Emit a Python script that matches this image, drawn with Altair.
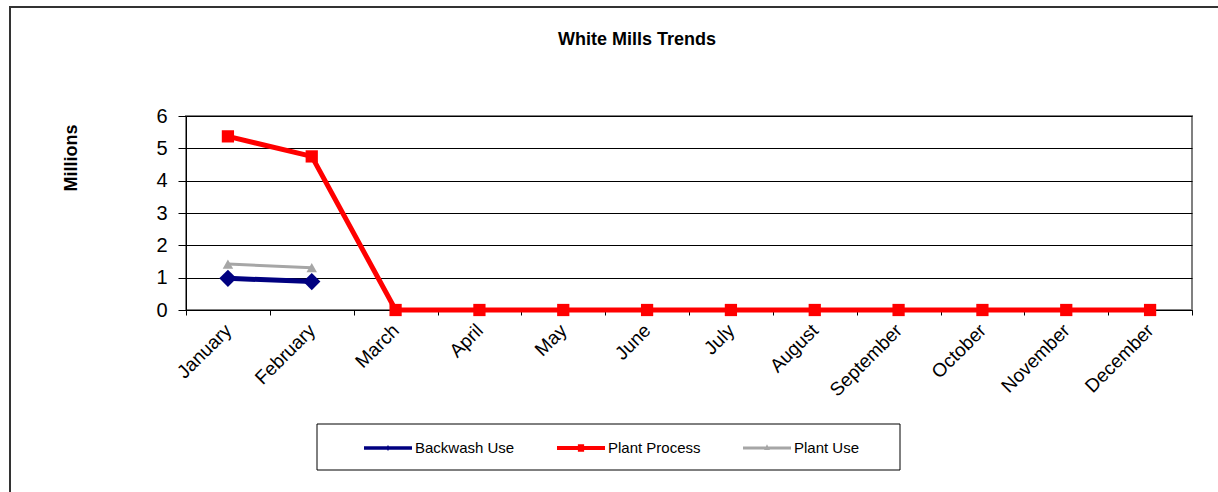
import altair as alt
import pandas as pd

months = ["January", "February", "March", "April", "May", "June", "July",
          "August", "September", "October", "November", "December"]
series_names = ["Backwash Use", "Plant Process", "Plant Use"]
backwash_use = [0.98, 0.88]
plant_process = [5.37, 4.75, 0, 0, 0, 0, 0, 0, 0, 0, 0, 0]
plant_use = [1.42, 1.31]
y_ticks = [0, 1, 2, 3, 4, 5, 6]

colors = ["#000080", "#FF0000", "#A6A6A6"]
markers = ["diamond", "square", "triangle-up"]
marker_sizes = [300, 150, 110]
line_widths = [5, 5, 3]

rows = []
for i, (name, vals) in enumerate(zip(series_names, [backwash_use, plant_process, plant_use])):
    for m, v in zip(months, vals):
        rows.append({"month": m, "series": name, "value": v, "col": colors[i],
                     "mk": markers[i], "ms": marker_sizes[i], "lw": line_widths[i],
                     "order": i})
df = pd.DataFrame(rows)

x_axis = alt.Axis(title=None, labelAngle=-45, labelAlign="right", labelBaseline="middle",
                  tickBand="extent", tickSize=5, labelPadding=12, labelFontSize=19,
                  labelColor="#000", domainColor="#000", tickColor="#000",
                  labelFont="Liberation Sans", grid=False, labelOverlap=False)
y_axis = alt.Axis(title=None, values=y_ticks, grid=True, gridColor="#000",
                  gridWidth=1, tickSize=8, labelPadding=11, labelFontSize=20,
                  labelColor="#000", domainColor="#000", tickColor="#000",
                  labelFont="Liberation Sans", domainWidth=1, labelOverlap=False)
x_scale = alt.Scale(type="band", domain=months, paddingInner=0, paddingOuter=0)
y_scale = alt.Scale(domain=[0, 6], nice=False)


def xe():
    return alt.X("month:O", sort=months, scale=x_scale, axis=x_axis)


def ye():
    return alt.Y("value:Q", scale=y_scale, axis=y_axis)


base = alt.Chart(df)

lines = base.mark_line().encode(
    x=xe(), y=ye(),
    color=alt.Color("col:N", scale=None),
    strokeWidth=alt.StrokeWidth("lw:Q", scale=None),
    detail="series:N",
)

points = base.mark_point(filled=True, opacity=1).encode(
    x=xe(), y=ye(),
    color=alt.Color("col:N", scale=None),
    shape=alt.Shape("mk:N", scale=None),
    size=alt.Size("ms:Q", scale=None),
)

legend_paths = [
    "M-1,-0.07H1V0.07H-1Z M0,-0.13L0.08,0L0,0.13L-0.08,0Z",
    "M-1,-0.08H1V0.08H-1Z M-0.13,-0.16H0.13V0.16H-0.13Z",
    "M-1,-0.06H1V0.06H-1Z M0,-0.16L0.12,0.08L-0.12,0.08Z",
]

legend_layer = base.mark_point(filled=True, opacity=0).encode(
    x=xe(), y=ye(),
    color=alt.Color("series:N", scale=alt.Scale(domain=series_names, range=colors),
                    legend=alt.Legend(title=None, orient="none", direction="horizontal",
                                      legendX=178, legendY=308, symbolSize=2304,
                                      symbolOpacity=1, symbolStrokeWidth=0,
                                      labelFontSize=15, labelFont="Liberation Sans",
                                      labelColor="#000", columnPadding=42, labelOffset=3,
                                      padding=0)),
    shape=alt.Shape("series:N", scale=alt.Scale(domain=series_names, range=legend_paths)),
)

legend_box = alt.Chart(pd.DataFrame({"a": [0]})).mark_rect(
    fill=None, stroke="#000", strokeWidth=1
).encode(x=alt.value(131), x2=alt.value(714), y=alt.value(308), y2=alt.value(354))

outer_box = alt.Chart(pd.DataFrame({"a": [0]})).mark_rect(
    fill=None, stroke="#333", strokeWidth=2
).encode(x=alt.value(-176), x2=alt.value(1300), y=alt.value(-109), y2=alt.value(600))

title = alt.Chart(pd.DataFrame({"t": ["White Mills Trends"]})).mark_text(
    font="Liberation Sans", fontSize=18, fontWeight="bold", color="#000",
    align="center", baseline="alphabetic"
).encode(text="t:N", x=alt.value(451), y=alt.value(-71))

ytitle = alt.Chart(pd.DataFrame({"t": ["Millions"]})).mark_text(
    font="Liberation Sans", fontSize=18, fontWeight="bold", color="#000",
    align="center", baseline="middle", angle=270
).encode(text="t:N", x=alt.value(-114), y=alt.value(42))

chart = alt.layer(outer_box, lines, points, legend_layer, legend_box, title, ytitle).properties(
    width=1006, height=194,
    autosize=alt.AutoSizeParams(type="none"),
    padding={"left": 186, "top": 116, "right": 26, "bottom": 182},
    background="#FFFFFF",
).configure_view(stroke="#808080", strokeWidth=2)

chart.save("out.html", embed_options={"renderer": "svg", "actions": False})
